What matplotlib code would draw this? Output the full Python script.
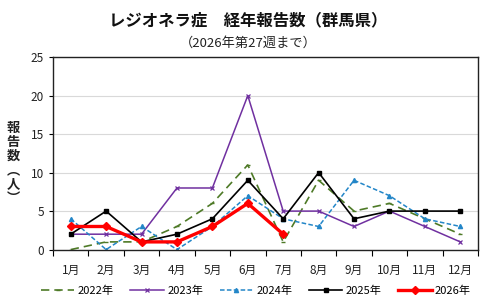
import matplotlib
matplotlib.use("Agg")
import matplotlib.pyplot as plt
import numpy as np

plt.rcParams['font.family'] = ['Noto Sans CJK JP', 'DejaVu Sans']

months = ["1月", "2月", "3月", "4月", "5月", "6月", "7月", "8月", "9月", "10月", "11月", "12月"]
y2022 = [0, 1, 1, 3, 6, 11, 1, 9, 5, 6, 4, 2]
y2023 = [2, 2, 2, 8, 8, 20, 5, 5, 3, 5, 3, 1]
y2024 = [4, 0, 3, 0, 3, 7, 4, 3, 9, 7, 4, 3]
y2025 = [2, 5, 1, 2, 4, 9, 4, 10, 4, 5, 5, 5]
y2026 = [3, 3, 1, 1, 3, 6, 2]
labels = ["2022年", "2023年", "2024年", "2025年", "2026年"]

fig = plt.figure(figsize=(5.0, 3.07), dpi=100)
ax = fig.add_axes([0.106, 0.187, 0.850, 0.627])

x = np.arange(1, 13)
ax.plot(x, y2022, color="#4E7A27", linestyle=(0, (5, 3)), linewidth=1.2,
        marker="_", markersize=3.5, label=labels[0])
ax.plot(x, y2023, color="#7030A0", linestyle="-", linewidth=1.1,
        marker="x", markersize=3, markeredgewidth=0.9, label=labels[1])
ax.plot(x, y2024, color="#2386C8", linestyle=(0, (3, 1.5)), linewidth=1.1,
        marker="^", markersize=3, label=labels[2])
ax.plot(x, y2025, color="black", linestyle="-", linewidth=1.2,
        marker="s", markersize=3.5, label=labels[3])
ax.plot(np.arange(1, len(y2026) + 1), y2026, color="#FF0000", linestyle="-", linewidth=2.4,
        marker="D", markersize=3.8, label=labels[4])

ax.set_xlim(0.5, 12.5)
ax.set_ylim(0, 25)
ax.set_yticks([0, 5, 10, 15, 20, 25])
ax.set_xticks(x)
ax.set_xticklabels(months)
ax.set_xticks(np.arange(0.5, 13, 1), minor=True)
ax.tick_params(axis='x', which='major', length=0, labelsize=8.5, pad=10)
ax.tick_params(axis='x', which='minor', length=4, direction='out', width=0.8)
ax.tick_params(axis='y', length=3, direction='out', labelsize=8.5, width=0.8)
for lab in ax.get_xticklabels() + ax.get_yticklabels():
    lab.set_color('#222222')
ax.grid(axis='y', color='#D9D9D9', linewidth=0.8)
ax.set_axisbelow(True)
for s in ax.spines.values():
    s.set_color('#222222')
    s.set_linewidth(1.0)

fig.text(0.497, 0.935, "レジオネラ症　経年報告数（群馬県）", ha='center', va='center',
         fontsize=11.8, fontweight='bold', color='#111111')
fig.text(0.497, 0.858, "（2026年第27週まで）", ha='center', va='center',
         fontsize=9.5, color='#222222')
fig.text(0.026, 0.47, "報\n告\n数\n︵\n人\n︶", ha='center', va='center',
         fontsize=9.5, fontweight='bold', color='#222222', linespacing=1.0)

leg = fig.legend(loc='center', bbox_to_anchor=(0.512, 0.052), ncol=5, frameon=False,
                 fontsize=8, handlelength=3.0, columnspacing=1.5, handletextpad=0.3)

fig.savefig("out.png", dpi=100)
